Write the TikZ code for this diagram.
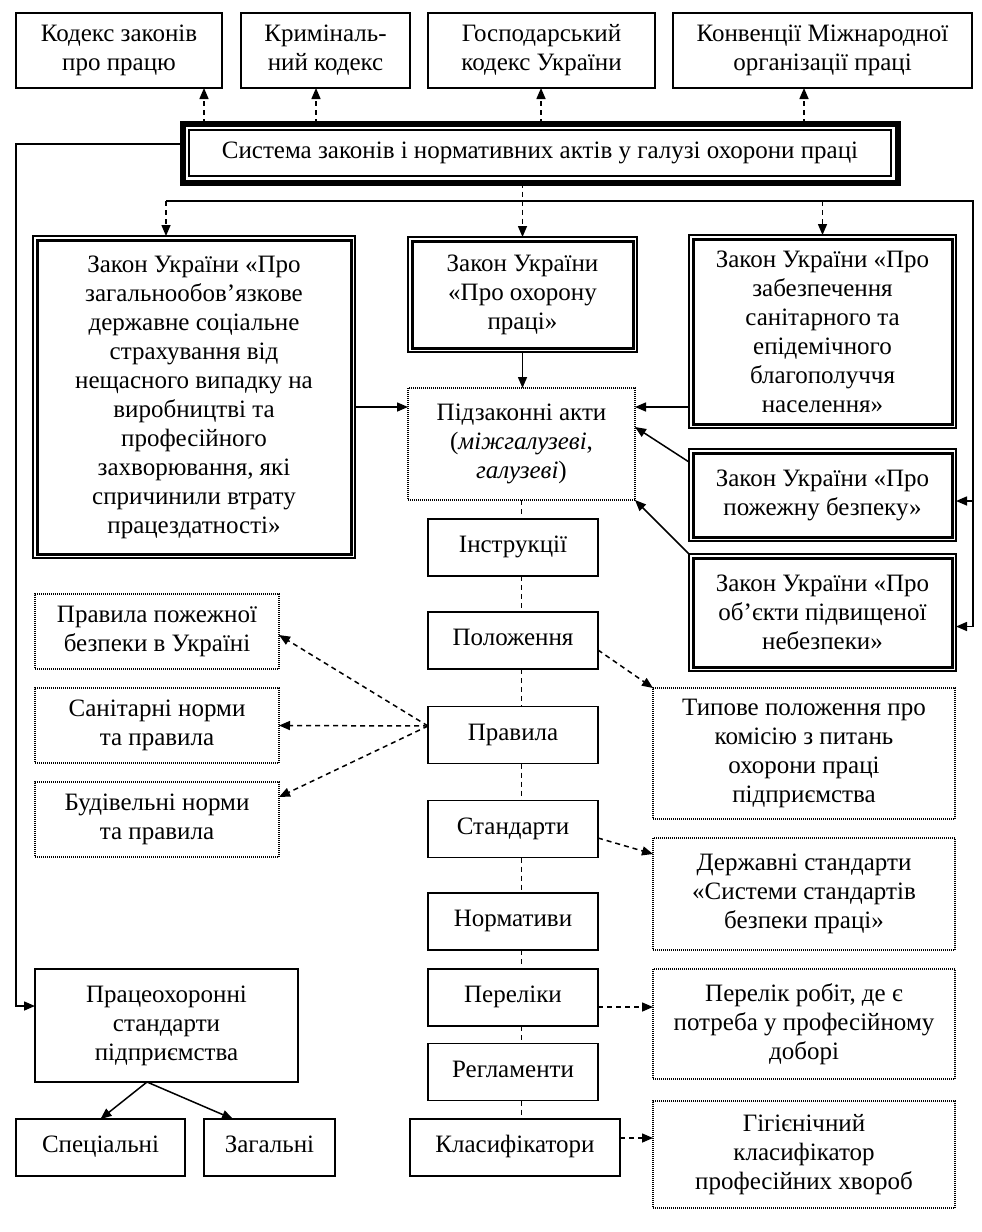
\documentclass[tikz,border=0pt]{standalone}
\usepackage{fontspec}
\setmainfont{Liberation Serif}
\usetikzlibrary{arrows.meta}

\tikzset{
	box/.style={draw,line width=1.8pt,inner sep=0pt,outer sep=0pt,align=center,font=\fontsize{25}{29}\selectfont},
	onebox/.style={box,minimum height=57pt,text height=17pt,text depth=7pt},
	dotbox/.style={box,line width=1.3pt,dash pattern=on 1pt off 1pt},
	lawbox/.style={box,line width=1.2pt},
	arr/.style={line width=1.5pt,-{Triangle[length=11pt,width=9pt]}},
	dasharr/.style={arr,dash pattern=on 5pt off 4pt},
}

\begin{document}
\begin{tikzpicture}[x=1pt,y=-1pt]
	\useasboundingbox (0,0) rectangle (982,1232);

	% top row
	\node[box,minimum width=206pt,minimum height=75pt] (kodeks) at (119,50.5) {Кодекс законів\\про працю};
	\node[box,minimum width=169pt,minimum height=75pt] (kryminal) at (325.5,50.5) {Криміналь-\\ний кодекс};
	\node[box,minimum width=227pt,minimum height=75pt] (hospod) at (541.5,50.5) {Господарський\\кодекс України};
	\node[box,minimum width=299pt,minimum height=75pt] (konv) at (822.5,50.5) {Конвенції Міжнародної\\організації праці};

	\node[box,line width=6pt,minimum width=715pt,minimum height=59pt] (sys) at (540,153) {Система законів і нормативних актів у галузі охорони праці};
	\draw[line width=1.5pt] ([shift={(6.5,6.5)}]sys.north west) rectangle ([shift={(-6.5,-6.5)}]sys.south east);

	% laws
	\node[lawbox,minimum width=322pt,minimum height=322pt] (strakh) at (194,397) {Закон України «Про\\загальнообов’язкове\\державне соціальне\\страхування від\\нещасного випадку на\\виробництві та\\професійного\\захворювання, які\\спричинили втрату\\працездатності»};
	\node[lawbox,minimum width=229pt,minimum height=115pt] (okhor) at (522.5,294.5) {Закон України\\«Про охорону\\праці»};
	\node[lawbox,minimum width=267pt,minimum height=193pt] (sanit) at (822.5,331.5) {Закон України «Про\\забезпечення\\санітарного та\\епідемічного\\благополуччя\\населення»};
	\node[lawbox,minimum width=267pt,minimum height=92pt] (pozh) at (822.5,495) {Закон України «Про\\пожежну безпеку»};
	\node[lawbox,minimum width=267pt,minimum height=117pt] (obekty) at (822.5,612.5) {Закон України «Про\\об’єкти підвищеної\\небезпеки»};
	\foreach \n in {strakh,okhor,sanit,pozh,obekty}
		\draw[line width=3pt] ([shift={(4,4)}]\n.north west) rectangle ([shift={(-4,-4)}]\n.south east);

	\node[dotbox,minimum width=227pt,minimum height=112pt] (pidz) at (521.5,444) {Підзаконні акти\\(\textit{міжгалузеві},\\\textit{галузеві})};

	% central column
	\node[onebox,minimum width=170pt] (instr) at (513,547.5) {Інструкції};
	\node[onebox,minimum width=170pt] (polozh) at (513,640.5) {Положення};
	\node[onebox,minimum width=170pt] (pravyla) at (513,735) {Правила};
	\node[onebox,minimum width=170pt] (standart) at (513,829) {Стандарти};
	\node[onebox,minimum width=170pt] (normat) at (513,921.5) {Нормативи};
	\node[onebox,minimum width=170pt] (perel) at (513,997.5) {Переліки};
	\node[onebox,minimum width=170pt] (rehlam) at (513,1072) {Регламенти};
	\node[onebox,minimum width=210pt] (klasyf) at (515,1147.5) {Класифікатори};

	% left column
	\node[dotbox,minimum width=244pt,minimum height=75pt] (pravpozh) at (157,631.5) {Правила пожежної\\безпеки в Україні};
	\node[dotbox,minimum width=244pt,minimum height=75pt] (sanitn) at (157,725.5) {Санітарні норми\\та правила};
	\node[dotbox,minimum width=244pt,minimum height=75pt] (budiv) at (157,819.5) {Будівельні норми\\та правила};
	\node[box,minimum width=263pt,minimum height=113pt] (pratse) at (166.5,1025.5) {Працеохоронні\\стандарти\\підприємства};
	\node[onebox,minimum width=169pt] (spets) at (100.5,1147.5) {Спеціальні};
	\node[onebox,minimum width=131pt] (zahal) at (269.5,1147.5) {Загальні};

	% right column
	\node[dotbox,minimum width=302pt,minimum height=131pt] (typove) at (804,753.5) {Типове положення про\\комісію з питань\\охорони праці\\підприємства};
	\node[dotbox,minimum width=302pt,minimum height=112pt] (derzh) at (804,894) {Державні стандарти\\«Системи стандартів\\безпеки праці»};
	\node[dotbox,minimum width=302pt,minimum height=110pt] (perelik) at (804,1024) {Перелік робіт, де є\\потреба у професійному\\доборі};
	\node[dotbox,minimum width=302pt,minimum height=107pt] (hihien) at (804,1154.5) {Гігієнічний\\класифікатор\\професійних хвороб};

	% connectors
	\foreach \n/\x in {kodeks/204,kryminal/316,hospod/541,konv/804}
		\draw[dasharr] (sys.north -| \x,0) -- (\n.south -| \x,0);

	\coordinate (busL) at (166,201);
	\coordinate (busR) at (973,201);
	\coordinate (pozhin) at ([yshift=-6pt]pozh.east);
	\coordinate (obin) at ([yshift=-14pt]obekty.east);
	\draw[line width=1.5pt] (busL) -- (busR) -- (busR |- obin);
	\draw[dasharr] (busL) -- (busL |- strakh.north);
	\draw[dasharr] (busL -| sanit.north) -- (sanit.north);
	\draw[dasharr] (sys.south -| okhor.north) -- (okhor.north);
	\draw[arr] (busR |- pozhin) -- (pozhin);
	\draw[arr] (busR |- obin) -- (obin);

	\draw[arr] ([yshift=9pt]sys.west) -| ([xshift=-19pt,yshift=19.5pt]pratse.west) -- ([yshift=19.5pt]pratse.west);

	\coordinate (pidzL) at ([yshift=-19pt]pidz.north west);
	\coordinate (pidzR) at ([yshift=-19pt]pidz.north east);
	\draw[arr] (okhor.south) -- (okhor.south |- pidz.north);
	\draw[arr] (strakh.east |- pidzL) -- (pidzL);
	\draw[arr] (sanit.west |- pidzR) -- (pidzR);
	\draw[arr] ([yshift=-13pt]pozh.north west) -- ([yshift=-39pt]pidz.north east);
	\draw[arr] (obekty.north west) -- (pidz.south east);

	\foreach \a/\b in {pidz/instr,instr/polozh,polozh/pravyla,pravyla/standart,standart/normat,normat/perel,perel/rehlam,rehlam/klasyf}
		\draw[line width=1.5pt,dash pattern=on 5pt off 4pt] (\a.south -| pidz.south) -- (\b.north -| pidz.south);

	\draw[dasharr] ([yshift=9pt]pravyla.west) -- ([yshift=-3.5pt]pravpozh.east);
	\draw[dasharr] ([yshift=9pt]pravyla.west) -- (sanitn.east);
	\draw[dasharr] ([yshift=9pt]pravyla.west) -- ([yshift=22.5pt]budiv.east);

	\draw[dasharr] ([yshift=-9.5pt]polozh.east) -- (typove.north west);
	\draw[dasharr] ([yshift=-9pt]standart.east) -- ([yshift=-16pt]derzh.north west);
	\draw[dasharr] ([yshift=-9.5pt]perel.east) -- ([yshift=-9.5pt]perel.east -| perelik.west);
	\draw[dasharr] ([yshift=9.5pt]klasyf.east) -- ([yshift=9.5pt]klasyf.east -| hihien.west);

	\draw[arr] ([xshift=-19.5pt]pratse.south) -- (spets.north);
	\draw[arr] ([xshift=-19.5pt]pratse.south) -- ([xshift=-36.5pt]zahal.north);
\end{tikzpicture}
\end{document}
